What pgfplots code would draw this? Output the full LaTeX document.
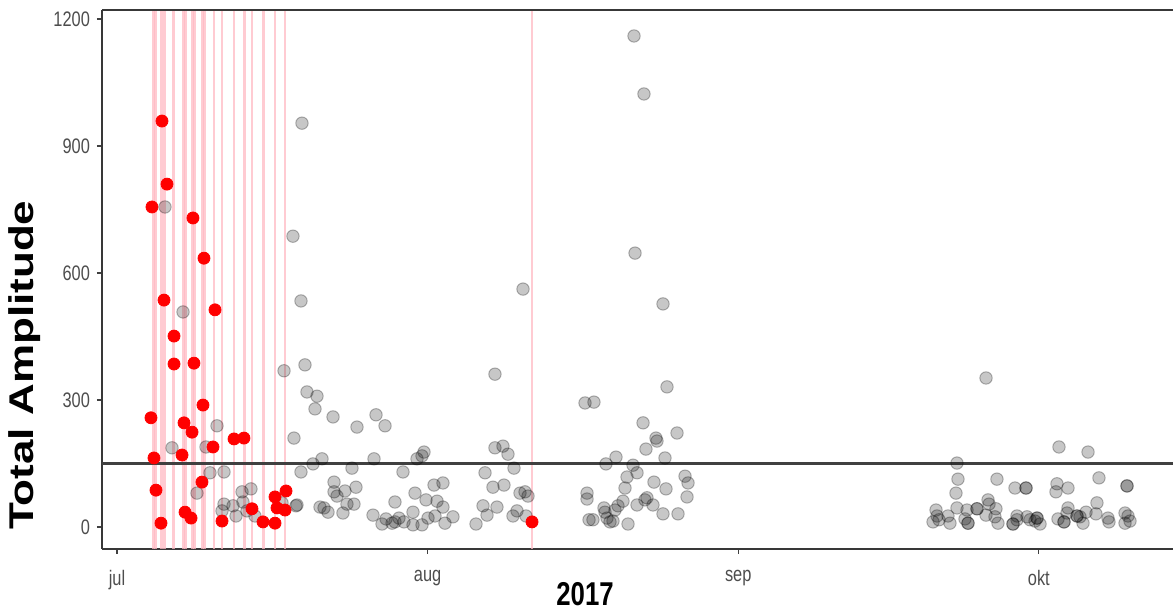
\documentclass[border=0pt]{standalone}
\usepackage{graphicx}
\usepackage{pgfplots}
\usepackage{pgfplotstable}
\pgfplotsset{compat=1.18}
\usepackage{fontspec}
\setmainfont{Liberation Sans}[FakeStretch=0.78]
\newfontfamily\plainfont{Liberation Sans}
\definecolor{ticktext}{RGB}{77,77,77}
\definecolor{vpink}{RGB}{255,185,195}

\pgfplotstableread{
x y
4.79 756
6.59 508
18.46 954
17.56 687
18.36 534
16.67 369
18.76 383
18.96 319
19.96 309
19.76 279
21.56 260
23.95 236
25.85 265
26.75 239
17.66 210
9.98 239
5.49 187
8.88 189
18.36 130
19.56 149
20.46 161
21.66 106
21.66 83
21.96 73
22.75 85
23.85 94
23.45 139
25.65 161
28.54 130
29.94 161
30.44 168
30.64 177
31.64 99
32.53 104
17.86 50
20.26 47
20.66 45
21.06 35
22.55 33
22.95 54
23.65 54
25.55 28
26.45 7
26.85 19
27.45 9
27.74 12
28.14 21
28.64 12
27.74 59
29.54 35
29.54 5
29.74 80
30.44 5
30.84 64
31.04 21
31.74 26
31.94 61
32.53 47
32.73 9
33.53 24
35.83 7
36.53 50
36.93 28
36.73 128
37.52 94
37.92 47
38.62 99
37.72 361
37.72 187
38.52 191
39.02 172
39.62 139
39.52 26
39.92 38
40.22 80
40.72 83
41.02 73
40.82 26
40.52 562
9.28 128
10.68 130
7.98 80
12.48 83
13.37 90
10.68 54
11.58 50
12.57 59
10.48 38
11.88 26
12.97 38
13.77 26
16.47 57
17.96 52
51.60 1160
52.59 1023
51.70 647
54.49 527
54.89 331
46.71 293
47.60 295
52.50 246
55.89 222
53.79 210
53.89 203
52.79 184
49.80 165
54.69 163
48.80 149
51.50 146
51.90 128
50.90 118
56.69 120
56.99 104
53.59 106
50.70 92
54.79 90
46.91 80
46.91 66
56.89 71
52.89 69
52.69 64
50.50 61
51.90 52
53.49 52
50.00 50
48.60 45
48.70 35
49.70 40
54.49 31
55.99 31
48.90 21
49.20 12
47.11 17
47.50 17
49.50 14
51.00 7
86.73 352
94.01 189
96.91 177
83.83 151
83.93 113
87.82 113
98.00 116
83.73 80
89.62 92
90.72 92
90.72 92
93.81 102
93.71 83
94.91 92
100.80 97
100.80 97
86.93 64
87.03 54
97.80 57
81.74 40
83.83 45
84.83 40
85.83 43
85.83 43
87.72 43
94.91 45
96.71 35
100.60 33
81.84 26
82.93 26
84.63 19
86.73 28
87.62 24
89.82 26
90.82 24
91.82 21
91.82 21
94.81 33
95.81 26
95.81 26
97.70 31
98.90 21
81.44 12
82.04 17
83.13 9
84.93 9
84.93 9
87.92 9
89.42 7
89.42 7
89.82 17
91.12 17
91.62 14
92.12 7
93.91 19
94.51 12
94.51 12
96.41 9
96.11 24
99.00 12
100.60 9
101.10 14
100.90 26
}\graydata

\pgfplotstableread{
x y
3.49 756
4.49 959
4.99 810
4.69 536
5.69 451
5.69 385
7.58 730
7.68 387
8.68 635
9.78 513
3.39 258
3.69 163
3.89 87
4.39 9
6.69 246
7.49 224
6.49 170
8.58 288
9.58 189
8.48 106
6.79 35
7.39 21
11.68 208
12.67 210
10.48 14
13.47 43
14.57 12
15.77 9
15.77 71
15.97 45
16.87 85
16.77 40
41.42 12
}\reddata

\begin{document}
\begin{tikzpicture}
\begin{axis}[
  at={(0,0)}, anchor=south west,
  scale only axis, width=535.5pt, height=269.5pt,
  xmin=-1.497, xmax=105.39, ymin=-52, ymax=1221.4,
  axis x line*=bottom, axis y line*=left,
  axis line style={black!78, line width=0.75pt},
  tick align=outside, major tick length=2.5pt,
  tick style={black!75, line width=0.55pt},
  xtick={0,31,62,92}, xticklabels={jul,aug,sep,okt},
  ytick={0,300,600,900,1200},
  tick label style={font=\fontsize{10.5}{12}\selectfont, text=ticktext},
  /pgf/number format/assume math mode=true,
  /pgf/number format/1000 sep={},
  xticklabel style={yshift=-4.5pt},
  xlabel={2017},
  xlabel style={font=\fontsize{16.5}{18}\selectfont\bfseries, at={(axis description cs:0.451,-0.0835)}, anchor=center},
  ylabel={\scalebox{1}[0.78]{\plainfont\bfseries Total Amplitude}},
  ylabel style={font=\fontsize{22}{25}\selectfont, at={(axis description cs:-0.0719,0.341)}, anchor=center},
]
\addplot[only marks, mark=*, mark size=3.1pt,
  mark options={fill=black, fill opacity=0.22, draw=black, draw opacity=0.28, line width=0.5pt}]
  table[x=x, y=y] {\graydata};
\addplot[only marks, mark=*, mark size=3pt, mark options={fill=red, draw=red}]
  table[x=x, y=y] {\reddata};
\pgfplotsinvokeforeach{3.62,3.82,4.39,4.59,4.79,5.62,6.62,6.82,7.52,7.72,8.55,8.75,9.68,10.48,11.68,12.71,13.47,14.64,15.77,16.77,41.42}{
  \addplot[vpink, opacity=0.75, line width=1.3pt, forget plot] coordinates {(#1,-60) (#1,1230)};
}
\addplot[black!75, line width=1.1pt] coordinates {(-5,150) (110,150)};
\draw[black!78, line width=0.75pt] (rel axis cs:0,1) -- (rel axis cs:1,1);
\end{axis}
\pgfresetboundingbox
\path[use as bounding box] (-51pt,-32pt) rectangle (535.5pt,274.5pt);
\end{tikzpicture}
\end{document}
